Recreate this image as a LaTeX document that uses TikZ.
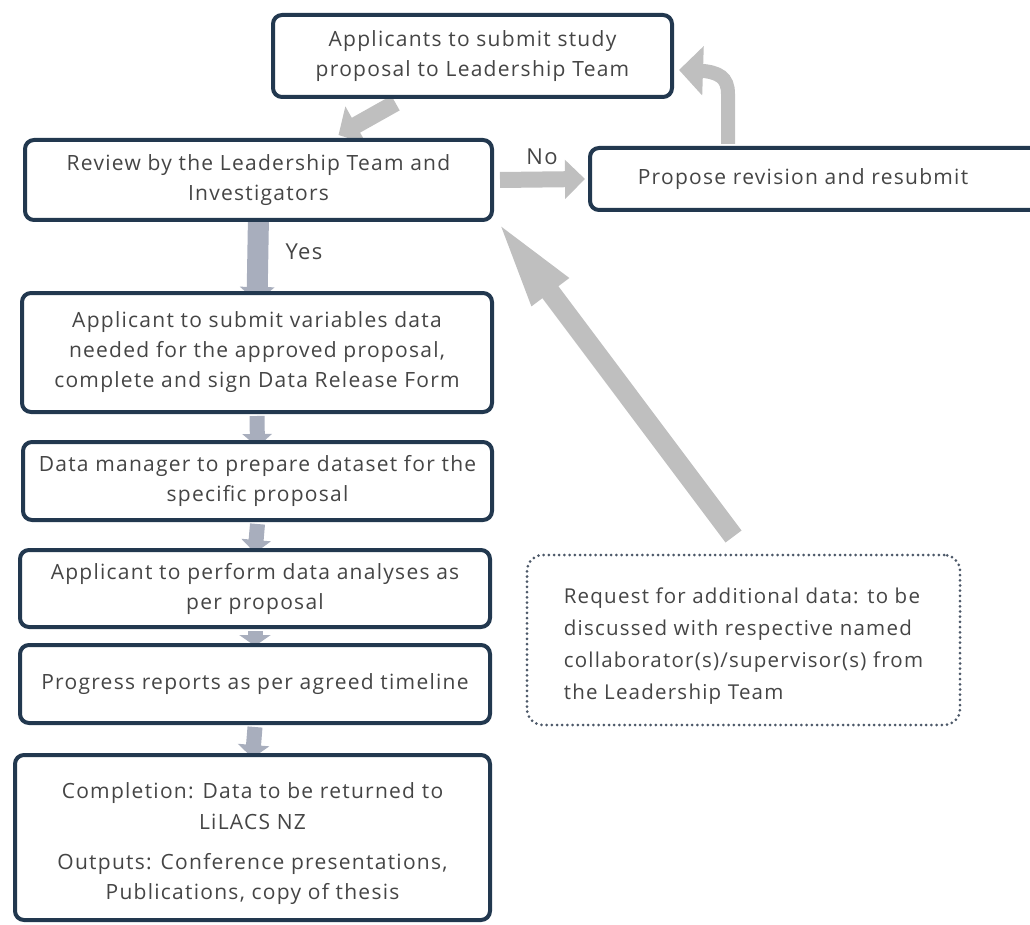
\documentclass[tikz,border=0pt]{standalone}
\usepackage{fontspec}
\setmainfont{Open Sans}[LetterSpace=6]
\usetikzlibrary{arrows.meta,calc,bending,backgrounds}
\definecolor{navy}{HTML}{22384F}
\definecolor{txt}{HTML}{454545}
\definecolor{garr}{HTML}{BFBFBF}
\definecolor{barr}{HTML}{A8AEBD}
\definecolor{dotc}{HTML}{4C5868}
\begin{document}
\begin{tikzpicture}[x=1pt,y=-1pt,
  box/.style={draw=navy, line width=4pt, rounded corners=9pt, fill=white,
    align=center, text=txt, font=\fontsize{21}{30}\selectfont, inner sep=0pt},
  reqbox/.style={draw=dotc, line width=3pt, line cap=round, dash pattern=on 0pt off 5.2pt,
    rounded corners=16pt, fill=white, align=left, text=txt,
    font=\fontsize{20.5}{32}\selectfont, inner sep=0pt},
  lbl/.style={text=txt, font=\fontsize{22}{24}\selectfont, inner sep=0pt},
  garrow/.style={draw=garr},
  barrow/.style={draw=barr},
]
\useasboundingbox (0,0) rectangle (1030,925);
\clip (0,0) rectangle (1030,925);

\node[box, minimum width=399pt, minimum height=82pt] (b1) at (472.5,56)
  {Applicants to submit study\\proposal to Leadership Team};
\node[box, minimum width=467pt, minimum height=80pt] (b2) at (258.5,180)
  {Review by the Leadership Team and\\Investigators};
\node[box, minimum width=450pt, minimum height=62pt] (prop) at (815,179)
  {Propose revision and resubmit\hspace*{24pt}};
\node[box, minimum width=470pt, minimum height=119pt] (b3) at (257,352.5)
  {Applicant to submit variables data\\needed for the approved proposal,\\complete and sign Data Release Form};
\node[box, minimum width=469pt, minimum height=78pt] (b4) at (257.5,481)
  {Data manager to prepare dataset for the\\specific proposal};
\node[box, minimum width=470pt, minimum height=77pt] (b5) at (255,588.5)
  {Applicant to perform data analyses as\\per proposal};
\node[box, minimum width=470pt, minimum height=78pt] (b6) at (255,684)
  {Progress reports as per agreed timeline};
\node[box, minimum width=475pt, minimum height=165pt] (b7) at (252.5,837.5)
  {\rule{0pt}{28pt}Completion: Data to be returned to\\[1pt]LiLACS NZ\\[10pt]Outputs: Conference presentations,\\Publications, copy of thesis};
\node[reqbox, minimum width=433pt, minimum height=170pt] (req) at (743.5,640)
  {\rule{0pt}{28pt}Request for additional data: to be\\discussed with respective named\\collaborator(s)/supervisor(s) from\\the Leadership Team};

\node[lbl] (no) at (542,157) {No};
\node[lbl] (yes) at (304,252) {Yes};

\begin{pgfonlayer}{background}
  % b1 -> b2
  \draw[garrow, line width=17pt, -{Triangle[length=20pt,width=42pt]}]
    ([xshift=-77,yshift=-4]b1.south) -- ([shift={(80,-3)}]b2.north);
  % b2 -> prop (No)
  \draw[garrow, line width=16pt, -{Triangle[length=20pt,width=38pt]}]
    ([xshift=6]b2.east) -- ([xshift=-3]prop.west);
  % prop -> b1 (curved)
  \draw[garrow, line width=14pt, -{Triangle[length=24pt,width=48pt]}]
    ([xshift=-87,yshift=2]prop.north) -- ++(0,-50)
    .. controls ++(0,-22) and ([shift={(38,14)}]b1.east) .. ([shift={(5,14)}]b1.east);
  % b2 -> b3 (Yes)
  \draw[barrow, line width=21pt, -{Triangle[length=15pt,width=34pt]}]
    ([yshift=6]b2.south) -- ([yshift=-11]b3.north);
  % small down arrows
  \draw[barrow, line width=15pt, -{Triangle[length=13pt,width=29pt]}]
    ([yshift=-2]b3.south) -- ([yshift=-7]b4.north);
  \draw[barrow, line width=15pt, -{Triangle[length=13pt,width=29pt]}]
    ([yshift=-2]b4.south) -- ([yshift=-5]b5.north);
  \draw[barrow, line width=15pt, -{Triangle[length=11pt,width=31pt]}]
    ([yshift=-2]b5.south) -- ([yshift=-3]b6.north);
  \draw[barrow, line width=15pt, -{Triangle[length=13pt,width=31pt]}]
    ([yshift=-2]b6.south) -- ([yshift=-5]b7.north);
  % req -> b2
  \draw[garrow, line width=20pt, -{Triangle[length=94pt,width=40pt]}]
    ([shift={(-10,-17)}]req.north) -- ([yshift=5]b2.south east);
\end{pgfonlayer}
\end{tikzpicture}
\end{document}
